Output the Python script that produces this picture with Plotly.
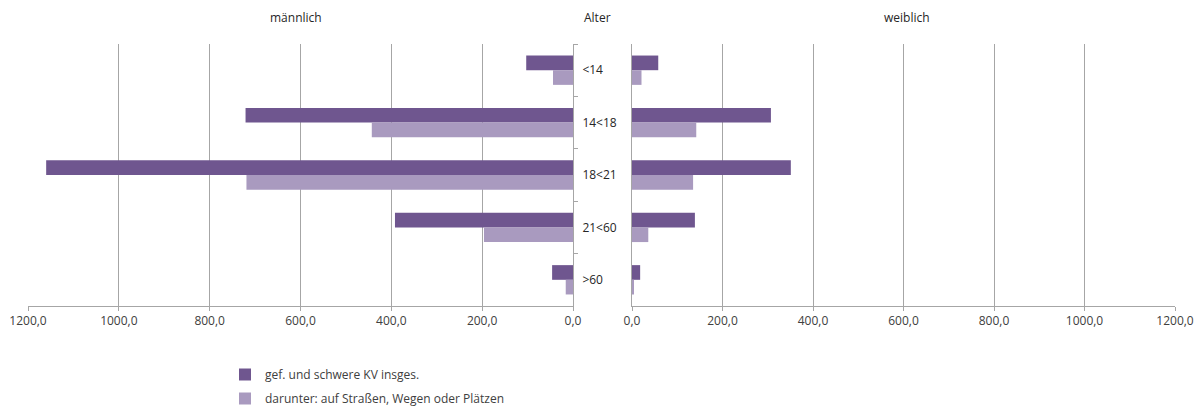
import plotly.graph_objects as go

# Altersgruppen (von oben nach unten)
alter = ["<14", "14<18", "18<21", "21<60", ">60"]

# männlich
m_gesamt = [103, 721, 1160, 392, 46]
m_strasse = [44, 443, 719, 196, 16]

# weiblich
w_gesamt = [58, 307, 351, 139, 18]
w_strasse = [21, 142, 135, 36, 3]

serie_namen = ["gef. und schwere KV insges.", "darunter: auf Straßen, Wegen oder Plätzen"]
farbe_dunkel = "#6F568F"
farbe_hell = "#A99ABF"

grid = "#A6A6A6"
schrift = dict(family="Open Sans, Noto Sans, sans-serif", size=12, color="#404040")

W, H = 1201, 409
L, R, T, B = 28, 26, 44, 103
pw, ph = W - L - R, H - T - B


def px_x(x):
    return (x - L) / pw


def px_y(y):
    return 1 - (y - T) / ph


fig = go.Figure()

fig.add_trace(go.Bar(y=alter, x=m_gesamt, orientation="h", name=serie_namen[0],
                     marker=dict(color=farbe_dunkel, line=dict(width=0)),
                     xaxis="x", yaxis="y", legendgroup="a"))
fig.add_trace(go.Bar(y=alter, x=m_strasse, orientation="h", name=serie_namen[1],
                     marker=dict(color=farbe_hell, line=dict(width=0)),
                     xaxis="x", yaxis="y", legendgroup="b"))
fig.add_trace(go.Bar(y=alter, x=w_gesamt, orientation="h", name=serie_namen[0],
                     marker=dict(color=farbe_dunkel, line=dict(width=0)),
                     xaxis="x2", yaxis="y2", showlegend=False, legendgroup="a"))
fig.add_trace(go.Bar(y=alter, x=w_strasse, orientation="h", name=serie_namen[1],
                     marker=dict(color=farbe_hell, line=dict(width=0)),
                     xaxis="x2", yaxis="y2", showlegend=False, legendgroup="b"))

achse_x = dict(
    range=[0, 1200], tickvals=[0, 200, 400, 600, 800, 1000, 1200], tickformat=".1f",
    showgrid=True, gridcolor=grid, gridwidth=1, zeroline=False,
    showline=True, linecolor=grid, linewidth=1,
    ticks="outside", ticklen=4, tickcolor=grid,
    tickfont=schrift, automargin=False,
)

fig.update_layout(
    width=W, height=H,
    margin=dict(l=L, r=R, t=T, b=B, autoexpand=False),
    paper_bgcolor="white", plot_bgcolor="white",
    separators=",.",
    barmode="group", bargap=0.44, bargroupgap=0,
    font=schrift,
    xaxis=dict(achse_x, domain=[0, px_x(573)], range=[1200, 0], anchor="y"),
    xaxis2=dict(achse_x, domain=[px_x(632), 1], anchor="y2"),
    yaxis=dict(domain=[0, 1], anchor="x", side="right", autorange="reversed",
               type="category", tickson="boundaries", ticks="outside", ticklen=4,
               tickcolor=grid, showline=True, linecolor=grid, linewidth=1,
               showgrid=False, tickfont=dict(schrift, color="#262626"),
               ticklabelstandoff=6, automargin=False),
    yaxis2=dict(domain=[0, 1], anchor="x2", autorange="reversed", type="category",
                showticklabels=False, ticks="", showline=True, linecolor=grid,
                linewidth=1, showgrid=False, automargin=False),
    legend=dict(x=px_x(225), y=px_y(360), xanchor="left", yanchor="top",
                orientation="v", font=dict(schrift, color="#404040"),
                tracegroupgap=5, itemwidth=30, bgcolor="rgba(0,0,0,0)"),
    showlegend=True,
)

for text, x in [("männlich", 296), ("Alter", 597), ("weiblich", 907)]:
    fig.add_annotation(text=text, x=px_x(x), y=px_y(18), xref="paper", yref="paper",
                       showarrow=False, xanchor="center", yanchor="middle",
                       font=dict(schrift, color="#262626"))

fig.write_html("out.html")
